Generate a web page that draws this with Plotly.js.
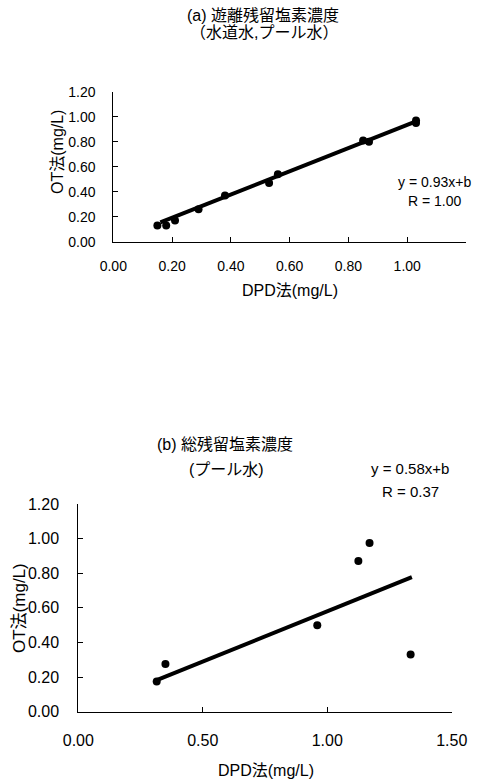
<!DOCTYPE html>
<html>
<head>
<meta charset="utf-8">
<script src="https://cdn.plot.ly/plotly-3.0.1.min.js"></script>
<style>html,body{margin:0;padding:0;background:#fff;}#chart{width:478px;height:781px;}</style>
</head>
<body>
<div id="chart"></div>
<script>
// ---- Data (a) 遊離残留塩素濃度 ----
const aDPD = [0.15, 0.18, 0.21, 0.29, 0.38, 0.53, 0.56, 0.85, 0.87, 1.03, 1.03];
const aOT  = [0.13, 0.13, 0.17, 0.26, 0.37, 0.47, 0.54, 0.81, 0.80, 0.97, 0.95];
const aSlope = 0.93, aIntercept = 0.005;
const aFitRange = [0.16, 1.03];
const aTitle1 = "(a) 遊離残留塩素濃度";
const aTitle2 = "（水道水,プール水）";
const aEq = "y = 0.93x+b";
const aR = "R = 1.00";

// ---- Data (b) 総残留塩素濃度 ----
const bDPD = [0.315, 0.35, 0.96, 1.125, 1.17, 1.335];
const bOT  = [0.175, 0.275, 0.50, 0.87, 0.975, 0.33];
const bSlope = 0.58, bIntercept = 0.0;
const bFitRange = [0.315, 1.34];
const bTitle1 = "(b) 総残留塩素濃度";
const bTitle2 = "(プール水)";
const bEq = "y = 0.58x+b";
const bR = "R = 0.37";

const xLabel = "DPD法(mg/L)";
const yLabel = "OT法(mg/L)";

const W = 478, H = 781;
const px = v => v / W;
const py = v => 1 - v / H;

const fontA = "Liberation Sans, Arial, Noto Sans CJK JP, sans-serif";
const fontB = "Liberation Sans, Arial, Noto Sans CJK JP, sans-serif";

const fitY = (r, m, b) => r.map(x => m * x + b);

const traces = [
  {x: aFitRange, y: fitY(aFitRange, aSlope, aIntercept), mode: 'lines', line: {color: '#000', width: 4}, xaxis: 'x', yaxis: 'y', hoverinfo: 'skip'},
  {x: aDPD, y: aOT, mode: 'markers', marker: {color: '#000', size: 8}, xaxis: 'x', yaxis: 'y'},
  {x: bFitRange, y: fitY(bFitRange, bSlope, bIntercept), mode: 'lines', line: {color: '#000', width: 4}, xaxis: 'x2', yaxis: 'y2', hoverinfo: 'skip'},
  {x: bDPD, y: bOT, mode: 'markers', marker: {color: '#000', size: 8}, xaxis: 'x2', yaxis: 'y2'}
];

const axBase = {
  showgrid: false, zeroline: false, showline: true, linecolor: '#000', linewidth: 1,
  ticks: 'inside', ticklen: 5, tickwidth: 1, tickcolor: '#000', tickformat: '.2f', fixedrange: true
};

const layout = {
  width: W, height: H,
  margin: {l: 0, r: 0, t: 0, b: 0},
  paper_bgcolor: '#fff', plot_bgcolor: '#fff',
  showlegend: false,
  xaxis: Object.assign({}, axBase, {
    domain: [px(113.3), px(466)], range: [0, 1.2], dtick: 0.2, anchor: 'y',
    tickfont: {family: fontA, size: 14, color: '#000'}, ticklabelstandoff: 11
  }),
  yaxis: Object.assign({}, axBase, {
    domain: [py(241.7), py(91.7)], range: [0, 1.2], dtick: 0.2, anchor: 'x',
    tickfont: {family: fontA, size: 14, color: '#000'}, ticklabelstandoff: 14
  }),
  xaxis2: Object.assign({}, axBase, {
    domain: [px(78.3), px(451.7)], range: [0, 1.5], dtick: 0.5, anchor: 'y2',
    tickfont: {family: fontB, size: 16, color: '#000'}, ticklabelstandoff: 14
  }),
  yaxis2: Object.assign({}, axBase, {
    domain: [py(711.7), py(504)], range: [0, 1.2], dtick: 0.2, anchor: 'x2',
    tickfont: {family: fontB, size: 16, color: '#000'}, ticklabelstandoff: 15
  }),
  annotations: [
    {text: aTitle1, x: px(263), y: py(15.7), font: {family: fontA, size: 16, color: '#000'}},
    {text: aTitle2, x: px(264), y: py(33), font: {family: fontA, size: 16, color: '#000'}},
    {text: aEq, x: px(434), y: py(181.7), font: {family: fontA, size: 14, color: '#000'}},
    {text: aR, x: px(435), y: py(200.7), font: {family: fontA, size: 14, color: '#000'}},
    {text: xLabel, x: px(290), y: py(290), font: {family: fontA, size: 16, color: '#000'}},
    {text: yLabel, x: px(57), y: py(152), textangle: -90, font: {family: fontA, size: 16, color: '#000'}},
    {text: bTitle1, x: px(225), y: py(445), font: {family: fontB, size: 16, color: '#000'}},
    {text: bTitle2, x: px(226), y: py(469), font: {family: fontB, size: 16, color: '#000'}},
    {text: bEq, x: px(410), y: py(468), font: {family: fontB, size: 15, color: '#000'}},
    {text: bR, x: px(410), y: py(491), font: {family: fontB, size: 15, color: '#000'}},
    {text: xLabel, x: px(266), y: py(770), font: {family: fontB, size: 16, color: '#000'}},
    {text: yLabel, x: px(19), y: py(608), textangle: -90, font: {family: fontB, size: 17, color: '#000'}}
  ].map(a => Object.assign({xref: 'paper', yref: 'paper', showarrow: false, xanchor: 'center', yanchor: 'middle'}, a))
};

Plotly.newPlot('chart', traces, layout, {staticPlot: true, displayModeBar: false});
</script>
</body>
</html>
